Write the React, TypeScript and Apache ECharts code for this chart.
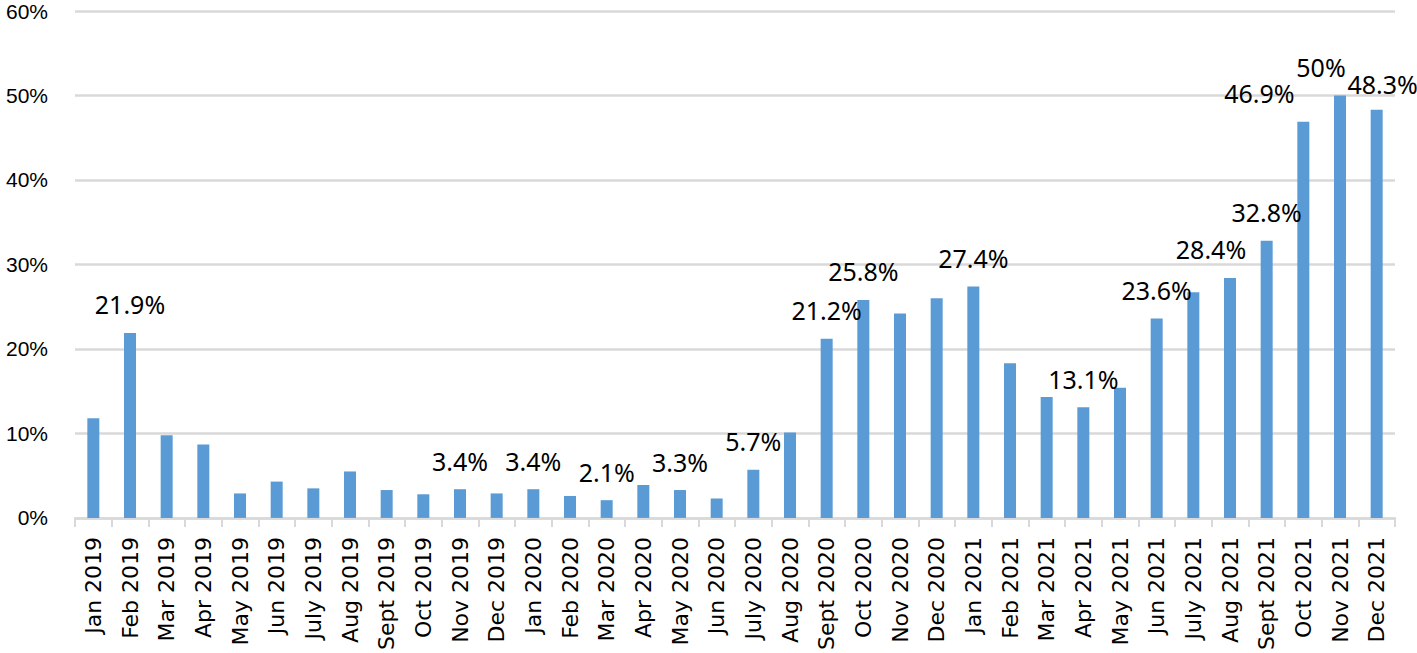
import React, { useEffect, useRef } from "react";
import * as echarts from "echarts";

const categories = [
  "Jan 2019", "Feb 2019", "Mar 2019", "Apr 2019", "May 2019", "Jun 2019",
  "July 2019", "Aug 2019", "Sept 2019", "Oct 2019", "Nov 2019", "Dec 2019",
  "Jan 2020", "Feb 2020", "Mar 2020", "Apr 2020", "May 2020", "Jun 2020",
  "July 2020", "Aug 2020", "Sept 2020", "Oct 2020", "Nov 2020", "Dec 2020",
  "Jan 2021", "Feb 2021", "Mar 2021", "Apr 2021", "May 2021", "Jun 2021",
  "July 2021", "Aug 2021", "Sept 2021", "Oct 2021", "Nov 2021", "Dec 2021",
];

const values = [
  11.8, 21.9, 9.8, 8.7, 2.9, 4.3,
  3.5, 5.5, 3.3, 2.8, 3.4, 2.9,
  3.4, 2.6, 2.1, 3.9, 3.3, 2.3,
  5.7, 10.1, 21.2, 25.8, 24.2, 26.0,
  27.4, 18.3, 14.3, 13.1, 15.4, 23.6,
  26.7, 28.4, 32.8, 46.9, 50, 48.3,
];

const labeledCategories = [
  "Feb 2019", "Nov 2019", "Jan 2020", "Mar 2020", "May 2020", "July 2020",
  "Sept 2020", "Oct 2020", "Jan 2021", "Apr 2021", "Jun 2021", "Aug 2021",
  "Sept 2021", "Oct 2021", "Nov 2021", "Dec 2021",
];

const yTicks = [0, 10, 20, 30, 40, 50, 60];

// label nudges (style only), keyed by category
const labelNudge: Record<string, [number, number]> = {
  "Aug 2021": [-19, 0],
  "Oct 2021": [-44, 0],
  "Nov 2021": [-19, 0],
  "Dec 2021": [6, 3],
};

export default function App() {
  const ref = useRef<HTMLDivElement>(null);

  useEffect(() => {
    document.body.style.margin = "0";
    const chart = echarts.init(ref.current!, null, { renderer: "svg" });
    const data = values.map((v, i) => {
      const cat = categories[i];
      const show = labeledCategories.includes(cat);
      return {
        value: v,
        label: {
          show,
          offset: labelNudge[cat] || [0, 0],
        },
      };
    });
    chart.setOption({
      animation: false,
      grid: { left: 75, right: 22, top: 11, bottom: 134, containLabel: false },
      xAxis: {
        type: "category",
        data: categories,
        boundaryGap: true,
        axisLine: { show: true, lineStyle: { color: "#d9d9d9", width: 2.5 } },
        axisTick: {
          show: true,
          alignWithLabel: false,
          length: 9,
          lineStyle: { color: "#d9d9d9", width: 2 },
        },
        axisLabel: {
          interval: 0,
          rotate: 90,
          margin: 19,
          color: "#000",
          fontFamily: "DejaVu Sans",
          fontSize: 22,
        },
      },
      yAxis: {
        type: "value",
        min: yTicks[0],
        max: yTicks[yTicks.length - 1],
        interval: 10,
        axisLine: { show: false },
        axisTick: { show: false },
        splitLine: { show: true, lineStyle: { color: "#d9d9d9", width: 2.5 } },
        axisLabel: {
          margin: 27,
          color: "#000",
          fontFamily: "Liberation Sans",
          fontSize: 21,
          lineHeight: 18,
          formatter: (v: number) => `${v}%`,
        },
      },
      series: [
        {
          type: "bar",
          data,
          barWidth: 12,
          itemStyle: { color: "#5b9bd5" },
          label: {
            position: "top",
            distance: 16,
            color: "#000",
            fontFamily: "Noto Sans",
            fontSize: 25,
            formatter: (p: any) => `${p.value}%`,
          },
        },
      ],
    });
    return () => chart.dispose();
  }, []);

  return <div ref={ref} style={{ width: 1417, height: 653 }} />;
}
